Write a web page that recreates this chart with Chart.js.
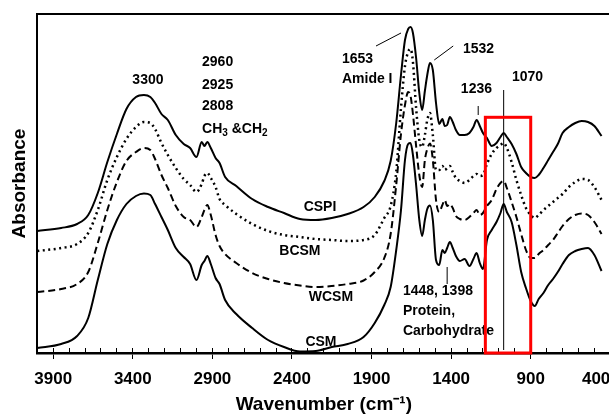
<!DOCTYPE html>
<html>
<head>
<meta charset="utf-8">
<script src="https://cdn.jsdelivr.net/npm/chart.js@4.4.1/dist/chart.umd.min.js"></script>
<style>
html, body { margin: 0; padding: 0; background: #fff; overflow: hidden; }
#wrap { width: 613px; height: 416px; }
</style>
</head>
<body>
<div id="wrap"><canvas id="ftir" width="613" height="416"></canvas></div>
<script>
"use strict";

// wavenumber grid (cm-1) shared by the four spectra
const wavenumbers = [4000, 3850, 3750, 3680, 3620, 3560, 3500, 3440, 3380, 3330,
    3290, 3260, 3220, 3180, 3130, 3080, 3040, 3000, 2967, 2950,
    2932, 2910, 2880, 2855, 2820, 2750, 2650, 2550, 2450, 2350,
    2250, 2150, 2050, 1950, 1880, 1820, 1780, 1745, 1715, 1690,
    1670, 1655, 1640, 1620, 1600, 1582, 1565, 1550, 1533, 1515,
    1495, 1475, 1455, 1440, 1425, 1408, 1390, 1370, 1345, 1315,
    1285, 1260, 1240, 1220, 1200, 1175, 1145, 1115, 1090, 1070,
    1050, 1020, 990, 960, 930, 900, 875, 850, 820, 790,
    760, 730, 700, 660, 620, 580, 540, 500, 455];

// absorbance (a.u., curves offset as in the figure)
const cspi = [1.22, 1.25, 1.29, 1.38, 1.60, 1.91, 2.19, 2.44, 2.56, 2.58,
    2.56, 2.50, 2.39, 2.33, 2.18, 2.09, 2.05, 1.96, 2.11, 2.07,
    2.11, 2.05, 1.95, 1.90, 1.76, 1.67, 1.54, 1.46, 1.40, 1.34,
    1.33, 1.35, 1.39, 1.46, 1.56, 1.72, 1.92, 2.30, 2.78, 3.13,
    3.24, 3.26, 3.20, 2.95, 2.60, 2.43, 2.62, 2.78, 2.90, 2.83,
    2.50, 2.29, 2.34, 2.27, 2.28, 2.36, 2.31, 2.23, 2.18, 2.18,
    2.20, 2.26, 2.33, 2.27, 2.20, 2.15, 2.07, 2.10, 2.16, 2.20,
    2.16, 2.09, 1.99, 1.86, 1.80, 1.76, 1.75, 1.78, 1.85, 1.93,
    2.01, 2.09, 2.20, 2.26, 2.30, 2.32, 2.31, 2.27, 2.17];

const bcsm = [1.02, 1.05, 1.09, 1.20, 1.43, 1.73, 1.96, 2.14, 2.26, 2.31,
    2.30, 2.24, 2.10, 1.98, 1.85, 1.74, 1.68, 1.61, 1.69, 1.77,
    1.80, 1.75, 1.66, 1.54, 1.48, 1.39, 1.29, 1.22, 1.18, 1.16,
    1.14, 1.13, 1.12, 1.13, 1.18, 1.35, 1.47, 1.81, 2.45, 2.87,
    3.01, 3.04, 2.91, 2.45, 2.13, 2.06, 2.18, 2.33, 2.40, 2.18,
    1.83, 1.83, 1.87, 1.83, 1.85, 1.87, 1.81, 1.75, 1.72, 1.70,
    1.73, 1.77, 1.79, 1.77, 1.78, 1.89, 1.99, 2.05, 2.08, 2.10,
    2.05, 1.91, 1.73, 1.58, 1.45, 1.38, 1.35, 1.38, 1.43, 1.47,
    1.51, 1.55, 1.59, 1.66, 1.71, 1.74, 1.73, 1.66, 1.53];

const wcsm = [0.61, 0.64, 0.69, 0.81, 1.10, 1.43, 1.71, 1.92, 2.01, 2.05,
    2.03, 1.94, 1.78, 1.65, 1.47, 1.36, 1.33, 1.26, 1.36, 1.43,
    1.48, 1.38, 1.18, 1.07, 0.99, 0.90, 0.80, 0.74, 0.70, 0.675,
    0.66, 0.67, 0.69, 0.725, 0.81, 0.95, 1.19, 1.68, 2.19, 2.48,
    2.61, 2.57, 2.39, 2.07, 1.78, 1.66, 1.93, 2.04, 2.095, 1.93,
    1.53, 1.41, 1.48, 1.53, 1.47, 1.49, 1.45, 1.37, 1.34, 1.33,
    1.36, 1.40, 1.43, 1.38, 1.40, 1.47, 1.53, 1.64, 1.70, 1.72,
    1.65, 1.51, 1.36, 1.19, 1.03, 0.95, 0.95, 0.99, 1.03, 1.08,
    1.13, 1.20, 1.27, 1.34, 1.38, 1.395, 1.38, 1.31, 1.19];

const csm = [0.05, 0.09, 0.17, 0.35, 0.73, 1.09, 1.33, 1.49, 1.57, 1.595,
    1.58, 1.49, 1.36, 1.23, 1.05, 0.96, 0.89, 0.73, 0.88, 0.92,
    0.97, 0.89, 0.75, 0.69, 0.53, 0.39, 0.25, 0.13, 0.06, 0.015,
    0.02, 0.06, 0.09, 0.16, 0.30, 0.48, 0.66, 1.03, 1.43, 1.93,
    2.09, 2.10, 1.98, 1.68, 1.33, 1.17, 1.33, 1.44, 1.475, 1.33,
    0.93, 0.88, 1.03, 1.00, 1.05, 1.11, 1.05, 0.97, 0.92, 0.94,
    0.87, 0.94, 1.00, 0.90, 0.84, 1.13, 1.23, 1.31, 1.40, 1.49,
    1.41, 1.31, 1.08, 0.81, 0.65, 0.52, 0.47, 0.54, 0.60, 0.68,
    0.74, 0.81, 0.89, 0.98, 1.02, 1.04, 1.05, 0.98, 0.82];

const majorTicks = [3900, 3400, 2900, 2400, 1900, 1400, 900, 400];

// every 100 cm-1, ascending, so that the 400 label is the first tick
const allTicks = [];
for (let wn = 400; wn <= 4000; wn += 100) allTicks.push(wn);

// peak / band annotations (wavenumber, absorbance)
const peakLabels = [
    { text: "3300", wn: 3305, abs: 2.73, align: "center" },
    { text: "2960", wn: 2965, abs: 2.905, align: "left" },
    { text: "2925", wn: 2965, abs: 2.68, align: "left" },
    { text: "2808", wn: 2965, abs: 2.47, align: "left" },
    { text: "1653", wn: 2086, abs: 2.94, align: "left" },
    { text: "Amide I", wn: 2086, abs: 2.74, align: "left" },
    { text: "1532", wn: 1326, abs: 3.04, align: "left" },
    { text: "1236", wn: 1339, abs: 2.64, align: "left" },
    { text: "1070", wn: 1018, abs: 2.76, align: "left" },
    { text: "1448, 1398", wn: 1703, abs: 0.62, align: "left" },
    { text: "Protein,", wn: 1703, abs: 0.42, align: "left" },
    { text: "Carbohydrate", wn: 1703, abs: 0.22, align: "left" },
    { text: "CSPI", wn: 2224, abs: 1.455, align: "center" },
    { text: "BCSM", wn: 2350, abs: 1.02, align: "center" },
    { text: "WCSM", wn: 2155, abs: 0.555, align: "center" },
    { text: "CSM", wn: 2218, abs: 0.105, align: "center" }
];

const leaderLines = [
    { from: [1872, 3.07], to: [1715, 3.20] },
    { from: [1506, 2.93], to: [1387, 3.07] },
    { from: [1230, 2.47], to: [1230, 2.38] },
    { from: [1425, 0.86], to: [1425, 0.69] },
    { from: [1070, 2.63], to: [1070, 0.03] }
];

const groupLabel = { wn: 2965, abs: 2.24 };   // CH3 & CH2
const highlightBox = { wnFrom: 1185, wnTo: 900, absTop: 2.357, absBottom: 0 };

const FONT = "'Liberation Sans', Arial, sans-serif";
Chart.defaults.font.family = FONT;
Chart.defaults.color = "#000";

const toPoints = values => wavenumbers.map((wn, i) => ({ x: wn, y: values[i] }));

const annotate = {
    id: "annotate",
    afterDatasetsDraw: chart => {
        const { ctx, scales: { x, y } } = chart;
        ctx.save();
        ctx.fillStyle = "#000";
        ctx.textBaseline = "middle";
        ctx.font = "bold 14px " + FONT;
        for (const lbl of peakLabels) {
            ctx.textAlign = lbl.align;
            ctx.fillText(lbl.text, x.getPixelForValue(lbl.wn), y.getPixelForValue(lbl.abs));
        }

        // CH3 &CH2 with subscripts
        let px = x.getPixelForValue(groupLabel.wn);
        const py = y.getPixelForValue(groupLabel.abs);
        ctx.textAlign = "left";
        const parts = [["CH", false], ["3", true], [" &CH", false], ["2", true]];
        for (const [txt, sub] of parts) {
            ctx.font = (sub ? "bold 10px " : "bold 14px ") + FONT;
            ctx.fillText(txt, px, sub ? py + 4 : py);
            px += ctx.measureText(txt).width;
        }

        ctx.strokeStyle = "#000";
        ctx.lineWidth = 1;
        for (const ln of leaderLines) {
            ctx.beginPath();
            ctx.moveTo(x.getPixelForValue(ln.from[0]), y.getPixelForValue(ln.from[1]));
            ctx.lineTo(x.getPixelForValue(ln.to[0]), y.getPixelForValue(ln.to[1]));
            ctx.stroke();
        }

        const bx1 = x.getPixelForValue(highlightBox.wnFrom);
        const bx2 = x.getPixelForValue(highlightBox.wnTo);
        const by1 = y.getPixelForValue(highlightBox.absTop);
        const by2 = y.getPixelForValue(highlightBox.absBottom);
        ctx.strokeStyle = "#ff0000";
        ctx.lineWidth = 3;
        ctx.strokeRect(bx1, by1, bx2 - bx1, by2 - by1);
        ctx.restore();
    }
};

const lineStyle = { borderColor: "#000", borderWidth: 2, pointRadius: 0, showLine: true, cubicInterpolationMode: "monotone", fill: false };

new Chart(document.getElementById("ftir"), {
    type: "scatter",
    data: {
        datasets: [
            { label: "CSPI", data: toPoints(cspi), ...lineStyle },
            { label: "BCSM", data: toPoints(bcsm), ...lineStyle, borderWidth: 2.5, borderDash: [2, 3.5] },
            { label: "WCSM", data: toPoints(wcsm), ...lineStyle, borderDash: [7, 4] },
            { label: "CSM", data: toPoints(csm), ...lineStyle }
        ]
    },
    options: {
        responsive: false,
        animation: false,
        events: [],
        layout: { padding: { left: 6.5, top: 14, right: 2.7, bottom: 0 } },
        plugins: { legend: { display: false }, tooltip: { enabled: false } },
        scales: {
            x: {
                type: "linear", position: "bottom", reverse: true, min: 400, max: 4000,
                afterBuildTicks: s => { s.ticks = allTicks.map(v => ({ value: v })); },
                ticks: {
                    autoSkip: false, maxRotation: 0, minRotation: 0, align: "inner", padding: 10,
                    color: "#000", font: { size: 17, weight: "bold" },
                    callback: v => majorTicks.includes(v) ? String(v) : ""
                },
                grid: {
                    drawOnChartArea: false, drawTicks: true, tickLength: 6, tickWidth: 1,
                    tickColor: c => majorTicks.includes(c.tick && c.tick.value) ? "#000" : "rgba(0,0,0,0)"
                },
                border: { display: true, color: "#000", width: 2.5 },
                title: {
                    display: true, text: "Wavenumber (cm\u207B\u00B9)", color: "#000",
                    font: { size: 19, weight: "bold" }, padding: { top: -6.2, bottom: 0 }
                }
            },
            xIn: {
                type: "linear", axis: "x", position: { y: 0 }, reverse: true, min: 400, max: 4000,
                afterBuildTicks: s => { s.ticks = allTicks.map(v => ({ value: v })); },
                ticks: { display: false },
                grid: { drawOnChartArea: false, drawTicks: true, tickLength: -5, tickWidth: 1, tickColor: "#000" },
                border: { display: false }
            },
            xTop: {
                type: "linear", axis: "x", position: "top", reverse: true, min: 400, max: 4000,
                ticks: { display: false },
                grid: { drawOnChartArea: false, drawTicks: false },
                border: { display: true, color: "#000", width: 2 }
            },
            y: {
                type: "linear", position: "left", min: 0, max: 3.39,
                ticks: { display: false },
                grid: { drawOnChartArea: false, drawTicks: false },
                border: { display: true, color: "#000", width: 2 },
                title: {
                    display: true, text: "Absorbance", color: "#000",
                    font: { size: 19, weight: "bold" }, padding: { top: 2, bottom: 6 }
                }
            }
        }
    },
    plugins: [annotate]
});
</script>
</body>
</html>
